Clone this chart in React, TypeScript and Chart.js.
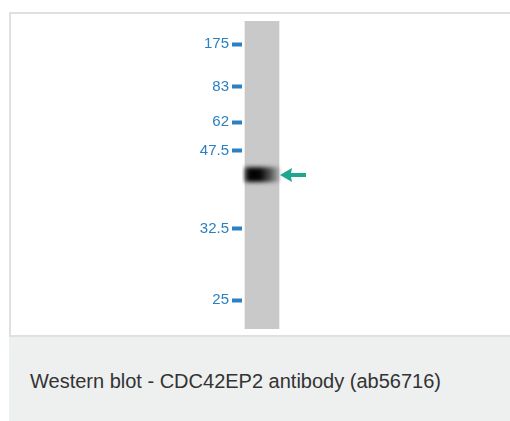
import React, { useEffect, useRef } from 'react';
import { Chart, registerables } from 'chart.js';

Chart.register(...registerables);

// Lane and molecular-weight ladder (kDa), positions read as relative migration (% of lane length)
const laneLabels = ['CDC42EP2'];
const laneExtent: [number, number] = [0, 100];
const markerLabels = ['175', '83', '62', '47.5', '32.5', '25'];
const markerMigration = [7.5, 21.4, 32.8, 42.2, 67.5, 90.6];
const bandExtent: [number, number] = [47.6, 52.2];
const bandMigration = 50.0;
const caption = 'Western blot - CDC42EP2 antibody (ab56716)';

const blotPlugin = {
  id: 'blotPlugin',
  beforeDatasetDraw(chart: any, args: any) {
    if (args.index === 0) {
      chart.ctx.save();
      chart.ctx.filter = 'blur(2px)';
    }
  },
  afterDatasetDraw(chart: any, args: any) {
    if (args.index === 0) chart.ctx.restore();
  },
  afterDatasetsDraw(chart: any) {
    const meta = chart.getDatasetMeta(1);
    const el = meta && meta.data && meta.data[0];
    if (!el) return;
    const right = el.x + el.width / 2;
    const y = chart.scales.y.getPixelForValue(bandMigration);
    const ctx = chart.ctx;
    const tip = right + 1;
    ctx.save();
    ctx.fillStyle = '#1ea68f';
    ctx.beginPath();
    ctx.moveTo(tip, y);
    ctx.lineTo(tip + 12, y - 7);
    ctx.lineTo(tip + 11, y - 2);
    ctx.lineTo(tip + 26, y - 2);
    ctx.lineTo(tip + 26, y + 2);
    ctx.lineTo(tip + 11, y + 2);
    ctx.lineTo(tip + 12, y + 7);
    ctx.closePath();
    ctx.fill();
    ctx.restore();
  },
};

export default function App() {
  const ref = useRef<HTMLCanvasElement | null>(null);

  useEffect(() => {
    if (!ref.current) return;
    const chart = new Chart(ref.current, {
      type: 'bar',
      data: {
        labels: laneLabels,
        datasets: [
          {
            label: 'band',
            data: [bandExtent],
            grouped: false,
            order: 1,
            barThickness: 34,
            borderWidth: 0,
            borderSkipped: false,
            backgroundColor: (c: any) => {
              const area = c.chart.chartArea;
              if (!area) return '#111';
              const g = c.chart.ctx.createLinearGradient(area.left + 3, 0, area.right - 3, 0);
              g.addColorStop(0, 'rgba(25,25,25,0.85)');
              g.addColorStop(0.15, 'rgba(0,0,0,1)');
              g.addColorStop(0.45, 'rgba(5,5,5,1)');
              g.addColorStop(0.75, 'rgba(45,45,45,0.75)');
              g.addColorStop(1, 'rgba(100,100,100,0.35)');
              return g;
            },
          } as any,
          {
            label: 'lane',
            data: [laneExtent],
            grouped: false,
            order: 2,
            barThickness: 34,
            borderWidth: 0,
            borderSkipped: false,
            backgroundColor: '#c9c9c9',
          } as any,
        ],
      },
      options: {
        responsive: false,
        animation: false,
        devicePixelRatio: 1,
        layout: { padding: { left: 0, right: 228, top: 21, bottom: 92 } },
        plugins: { legend: { display: false }, tooltip: { enabled: false } },
        scales: {
          x: { display: false },
          y: {
            reverse: true,
            min: 0,
            max: 100,
            border: { display: false },
            grid: {
              drawOnChartArea: false,
              drawTicks: true,
              tickLength: 10,
              tickWidth: 4,
              tickColor: '#2a80c2',
            },
            ticks: {
              padding: 3,
              color: '#2a80c2',
              font: { family: "'Liberation Sans', Arial, sans-serif", size: 15 },
              callback: (v: any) => {
                const i = markerMigration.indexOf(Number(v));
                return i >= 0 ? markerLabels[i] : '';
              },
            },
            afterBuildTicks: (axis: any) => {
              axis.ticks = markerMigration.map((v) => ({ value: v }));
            },
            afterFit: (axis: any) => {
              axis.width = 242;
            },
          } as any,
        },
      },
      plugins: [blotPlugin],
    });
    return () => chart.destroy();
  }, []);

  return (
    <div style={{ position: 'absolute', left: 0, top: 0, width: 510, height: 421, overflow: 'hidden', background: '#fff' }}>
      <div
        style={{
          position: 'absolute',
          left: 9,
          top: 12,
          width: 530,
          height: 325,
          border: '2px solid #e0e0e0',
          boxSizing: 'border-box',
          background: '#fff',
        }}
      />
      <div
        style={{
          position: 'absolute',
          left: 9,
          top: 337,
          width: 530,
          height: 100,
          background: '#eeefef',
        }}
      >
        <div
          style={{
            position: 'absolute',
            left: 21,
            top: 33,
            fontFamily: "'Liberation Sans', Arial, sans-serif",
            fontSize: 20,
            color: '#333',
            whiteSpace: 'nowrap',
          }}
        >
          {caption}
        </div>
      </div>
      <canvas ref={ref} width={510} height={421} style={{ position: 'absolute', left: 0, top: 0 }} />
    </div>
  );
}
